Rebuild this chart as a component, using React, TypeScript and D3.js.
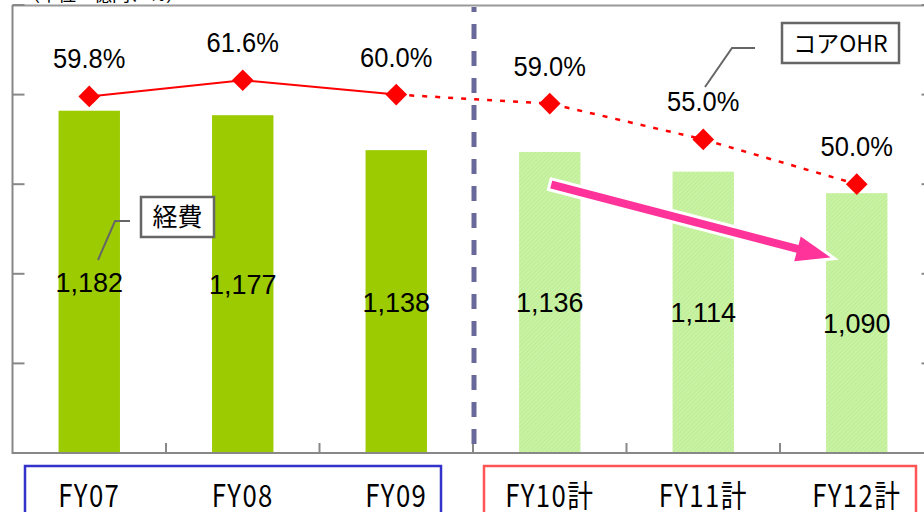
import React from "react";
import * as d3 from "d3";

const categories = ["FY07", "FY08", "FY09", "FY10計", "FY11計", "FY12計"];
const expenses = [1182, 1177, 1138, 1136, 1114, 1090];
const expenseLabels = ["1,182", "1,177", "1,138", "1,136", "1,114", "1,090"];
const ohr = [59.8, 61.6, 60.0, 59.0, 55.0, 50.0];
const ohrLabels = ["59.8%", "61.6%", "60.0%", "59.0%", "55.0%", "50.0%"];
const isPlan = [false, false, false, true, true, true];
const leftTicks = [800, 900, 1000, 1100, 1200, 1300];
const rightTicks = [20, 30, 40, 50, 60, 70];

const W = 924;
const H = 512;
const L = 12.5;
const R = 933.5;
const T = 5;
const B = 453;

export default function App() {
  const x = d3.scaleBand<string>().domain(categories).range([L, R]).paddingInner(0.6).paddingOuter(0.3);
  const yL = d3.scaleLinear().domain([800, 1300]).range([B, T]);
  const yR = d3.scaleLinear().domain([20, 70]).range([B, T]);
  const xc = (c: string) => (x(c) as number) + x.bandwidth() / 2;
  const step = x.step();
  const boundaries = categories.slice(1).map((c) => (x(c) as number) - (step - x.bandwidth()) / 2);

  const pts: [number, number][] = categories.map((c, i) => [xc(c), yR(ohr[i])]);
  const line = d3.line();
  const solidPts = pts.slice(0, 3);
  const dotPts = pts.slice(2);
  const diamond = d3.symbol(d3.symbolSquare, 235)();

  // arrow annotation
  const ax0 = xc(categories[3]);
  const ay0 = yL(1100);
  const ax1 = xc(categories[5]) - 22;
  const ay1 = yL(1017);
  const dx = ax1 - ax0, dy = ay1 - ay0;
  const len = Math.hypot(dx, dy);
  const ux = dx / len, uy = dy / len;
  const nx = -uy, ny = ux;
  const sw = 11, hw = 30, hl = 40;
  const bx = ax1 - ux * hl, by = ay1 - uy * hl;
  const arrowPts: [number, number][] = [
    [ax0 + nx * sw / 2, ay0 + ny * sw / 2],
    [bx + nx * sw / 2, by + ny * sw / 2],
    [bx + nx * hw / 2, by + ny * hw / 2],
    [ax1, ay1],
    [bx - nx * hw / 2, by - ny * hw / 2],
    [bx - nx * sw / 2, by - ny * sw / 2],
    [ax0 - nx * sw / 2, ay0 - ny * sw / 2],
  ];
  const arrowPath = "M" + arrowPts.map((p) => p.join(",")).join("L") + "Z";

  const divX = boundaries[2] + 1;

  return (
    <svg
      width={W}
      height={H}
      style={{ position: "absolute", left: 0, top: 0, display: "block", background: "#fff" }}
    >
      <defs>
        <pattern id="hatch" width="3" height="3" patternUnits="userSpaceOnUse" patternTransform="rotate(45)">
          <rect width="3" height="3" fill="#C8F3A3" />
          <rect width="1" height="3" fill="#C0EC98" />
        </pattern>
      </defs>

      <text x={22} y={1} fontFamily="Noto Sans CJK JP" fontSize={18} fill="#000">（単位：億円、％）</text>

      {/* frame */}
      <line x1={L} x2={R} y1={T + 0.5} y2={T + 0.5} stroke="#999" strokeWidth={2} />
      <line x1={L} x2={R} y1={B} y2={B} stroke="#888" strokeWidth={2} />
      <line x1={L} x2={L} y1={T} y2={B + 1} stroke="#888" strokeWidth={2} />
      {leftTicks.map((t) => (
        <line key={"lt" + t} x1={L} x2={L + 12} y1={yL(t)} y2={yL(t)} stroke="#888" strokeWidth={2} />
      ))}
      {rightTicks.map((t) => (
        <line key={"rt" + t} x1={R - 12} x2={R} y1={yR(t)} y2={yR(t)} stroke="#888" strokeWidth={2} />
      ))}
      {boundaries.map((b, i) => (
        <line key={"xt" + i} x1={b} x2={b} y1={B - 10} y2={B} stroke="#888" strokeWidth={2} />
      ))}

      {/* bars */}
      {categories.map((c, i) => (
        <rect
          key={"bar" + c}
          x={x(c)}
          y={yL(expenses[i])}
          width={x.bandwidth()}
          height={B - 1 - yL(expenses[i])}
          fill={isPlan[i] ? "url(#hatch)" : "#9BCB00"}
        />
      ))}

      {/* divider */}
      <line x1={divX} x2={divX} y1={T + 2} y2={B + 2} stroke="#68689A" strokeWidth={5} strokeDasharray="15,12" strokeDashoffset={10} />

      {/* bar labels */}
      {categories.map((c, i) => {
        const ty = (yL(expenses[i]) + B) / 2 + 10;
        return (
          <text
            key={"bl" + c}
            x={xc(c)}
            y={ty}
            transform={`translate(0,${ty}) scale(1,1.05) translate(0,${-ty})`}
            textAnchor="middle"
            fontFamily="Liberation Sans, Arial, sans-serif"
            fontSize={27}
            fill="#000"
          >
            {expenseLabels[i]}
          </text>
        );
      })}

      {/* OHR line */}
      <path d={line(solidPts) || ""} fill="none" stroke="#FF0000" strokeWidth={2} />
      <path d={line(dotPts) || ""} fill="none" stroke="#FF0000" strokeWidth={2.5} strokeDasharray="5,8" />
      {pts.map((p, i) => (
        <path key={"m" + i} d={diamond || ""} transform={`translate(${p[0]},${p[1]}) rotate(45)`} fill="#FF0000" />
      ))}
      {pts.map((p, i) => {
        const ty = p[1] - 28;
        return (
          <text
            key={"pl" + i}
            x={p[0]}
            y={ty}
            transform={`translate(0,${ty}) scale(1,1.1) translate(0,${-ty})`}
            textAnchor="middle"
            fontFamily="Liberation Sans, Arial, sans-serif"
            fontSize={25.5}
            fill="#000"
          >
            {ohrLabels[i]}
          </text>
        );
      })}

      {/* arrow */}
      <path d={arrowPath} fill="#FF3399" stroke="#fff" strokeWidth={3} strokeLinejoin="miter" />

      {/* callout 経費 */}
      <polyline points="130,221 115,221 98,260" fill="none" stroke="#666" strokeWidth={2} />
      <rect x={141} y={197} width={73} height={40} fill="#fff" stroke="#666" strokeWidth={2.5} />
      <text x={177.5} y={226} textAnchor="middle" fontFamily="Noto Sans CJK JP" fontSize={25} fill="#000">経費</text>

      {/* callout コアOHR */}
      <polyline points="755,48 732,48 705,87" fill="none" stroke="#666" strokeWidth={2} />
      <rect x={782} y={23} width={117} height={40} fill="#fff" stroke="#666" strokeWidth={2.5} />
      <text x={840.5} y={52} textAnchor="middle" fontFamily="Noto Sans CJK JP" fontSize={23} fill="#000">コアOHR</text>

      {/* category boxes */}
      <rect x={25} y={466} width={416} height={60} fill="none" stroke="#3333CC" strokeWidth={2.5} />
      <rect x={484} y={466} width={432} height={60} fill="none" stroke="#FF5555" strokeWidth={2.5} />
      {categories.map((c) => {
        const cx = xc(c);
        return (
          <text
            key={"cl" + c}
            x={cx}
            y={507}
            transform={`translate(${cx},507) scale(0.92,1.1) translate(${-cx},-507)`}
            textAnchor="middle"
            fontFamily="Noto Sans CJK JP"
            fontWeight={400}
            fontSize={28}
            letterSpacing={1.5}
            fill="#000"
          >
            {c}
          </text>
        );
      })}
    </svg>
  );
}
